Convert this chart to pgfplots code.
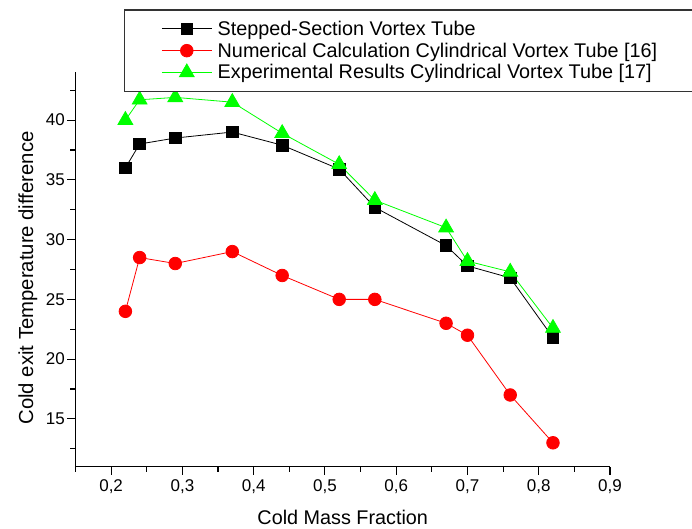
\documentclass[border=0pt]{standalone}
\usepackage{fontspec}
\setmainfont{Liberation Sans}
\usepackage{pgfplots}
\pgfplotsset{compat=1.18}
\begin{document}
\begin{tikzpicture}
\useasboundingbox (0,0) rectangle (692bp,529bp);
\begin{axis}[
  at={(75.5bp,62.3bp)}, anchor=south west,
  scale only axis, width=534.5bp, height=394.4bp,
  xmin=0.15, xmax=0.9, ymin=11, ymax=44,
  clip=false,
  axis x line*=bottom, axis y line*=left,
  axis line style={-, line width=1.2bp, black},
  tick align=outside,
  major tick length=8bp, minor tick length=5bp,
  every tick/.style={black, line width=1.1bp},
  xtick={0.2,0.3,0.4,0.5,0.6,0.7,0.8,0.9},
  minor xtick={0.15,0.25,0.35,0.45,0.55,0.65,0.75,0.85},
  ytick={15,20,25,30,35,40},
  minor ytick={12.5,17.5,22.5,27.5,32.5,37.5,42.5},
  /pgf/number format/assume math mode=true,
  ticklabel style={font=\fontsize{17bp}{20bp}\selectfont},
  yticklabel style={inner xsep=2.5bp},
  xticklabel style={inner ysep=4.5bp, /pgf/number format/.cd, fixed, fixed zerofill, precision=1, use comma, assume math mode=true},
  label style={font=\fontsize{19.8bp}{23bp}\selectfont},
  xlabel={Cold Mass Fraction},
  xlabel style={at={(axis description cs:0.5,-0.1478)}, anchor=base},
  ylabel={Cold exit Temperature difference},
  ylabel style={at={(axis description cs:-0.0795,0.4785)}, anchor=base, rotate=0, font=\fontsize{20.3bp}{24bp}\selectfont},
  legend style={at={(axis description cs:0.0913,1.1597)}, anchor=north west,
    draw=black!80, line width=1.2bp, fill=white,
    inner xsep=36.5bp, inner ysep=8bp,
    font=\fontsize{19.8bp}{23bp}\selectfont,
    nodes={inner xsep=5.5bp, inner ysep=3bp}},
  legend cell align=left,
  legend image code/.code={\draw[mark repeat=2,mark phase=2,#1] plot coordinates {(0bp,0bp) (25bp,0bp) (50bp,0bp)};},
]
\addplot[black, line width=0.8bp, mark=square*, mark size=5.8bp, mark options={solid, fill=black}] coordinates {
(0.22,36) (0.24,38) (0.29,38.5) (0.37,39) (0.44,37.9) (0.52,35.9) (0.57,32.7) (0.67,29.5) (0.70,27.8) (0.76,26.8) (0.82,21.8)};
\addlegendentry{Stepped-Section Vortex Tube}
\addplot[red, line width=0.8bp, mark=*, mark size=6.3bp, mark options={solid, fill=red}] coordinates {
(0.22,24) (0.24,28.5) (0.29,28) (0.37,29) (0.44,27) (0.52,25) (0.57,25) (0.67,23) (0.70,22) (0.76,17) (0.82,13)};
\addlegendentry{Numerical Calculation Cylindrical Vortex Tube [16]}
\addplot[green, line width=0.8bp, mark=triangle*, mark size=8.5bp, mark options={solid, fill=green}] coordinates {
(0.22,40) (0.24,41.7) (0.29,41.9) (0.37,41.5) (0.44,38.9) (0.52,36.3) (0.57,33.3) (0.67,31) (0.70,28.2) (0.76,27.3) (0.82,22.6)};
\addlegendentry{Experimental Results Cylindrical Vortex Tube [17]}
\end{axis}
\end{tikzpicture}
\end{document}
